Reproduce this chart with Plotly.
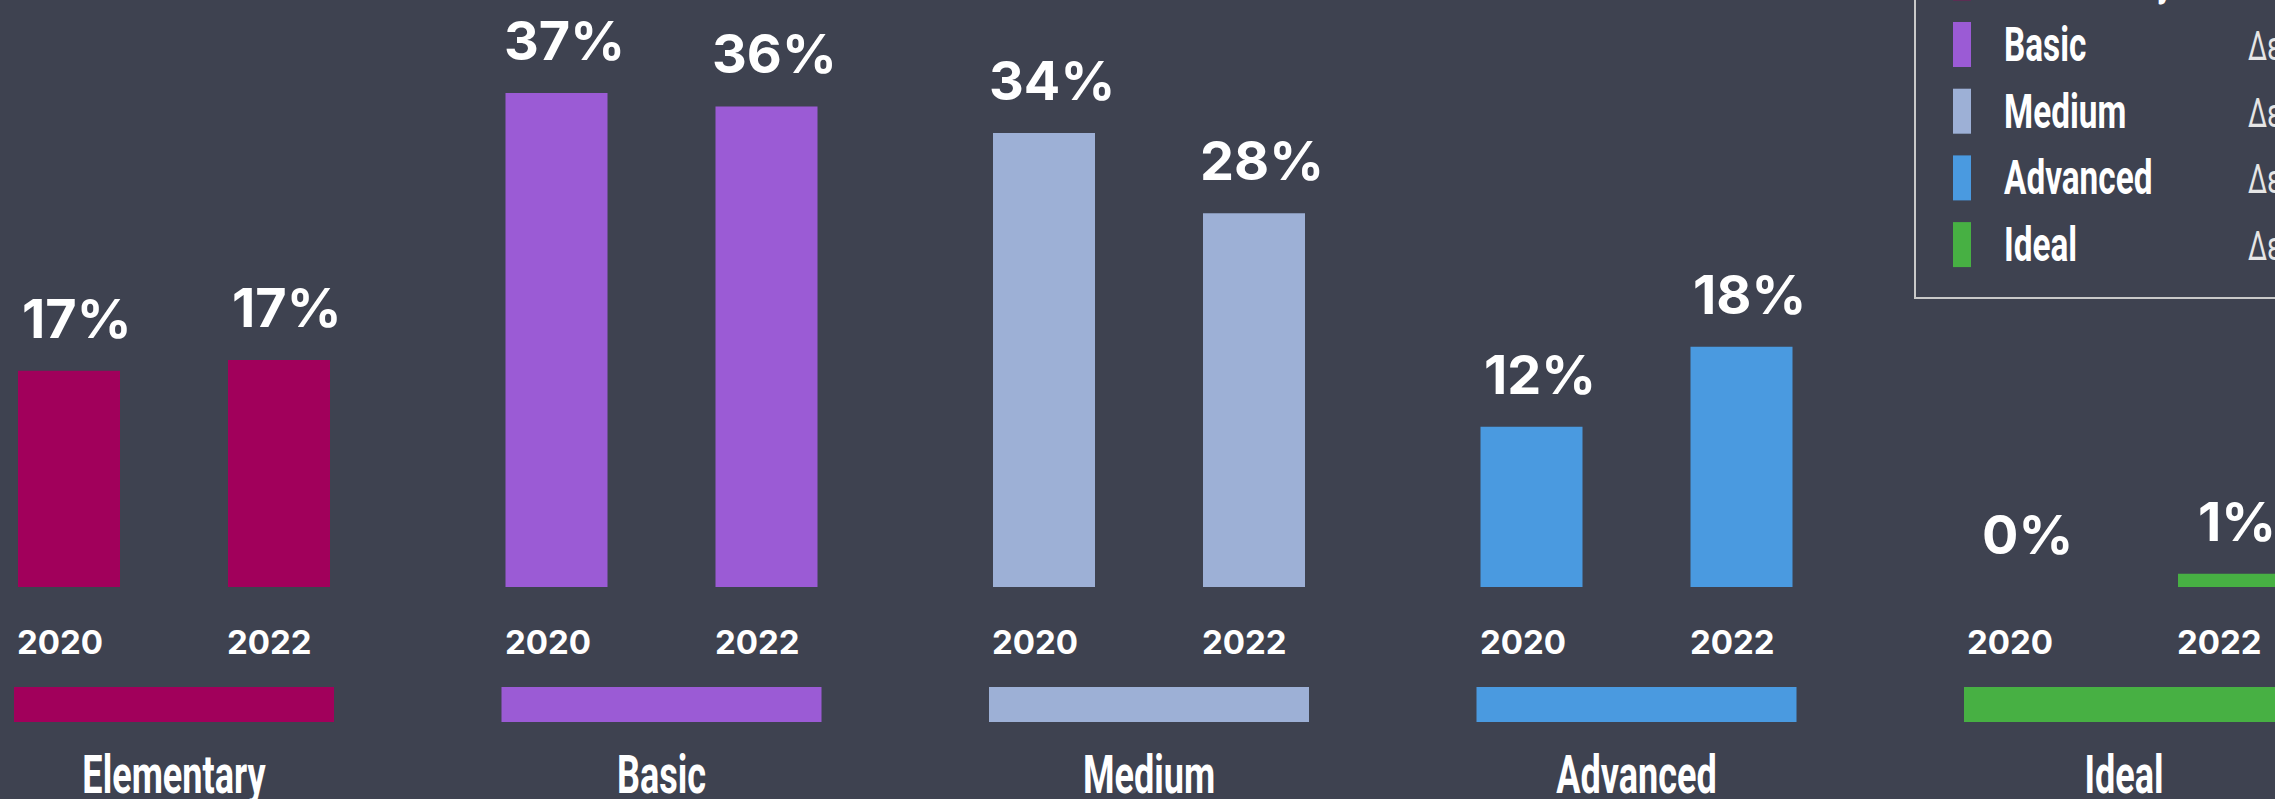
import json
import plotly.graph_objects as go

# ---------------- data ----------------
categories = ["Elementary", "Basic", "Medium", "Advanced", "Ideal"]
years = ["2020", "2022"]
values_2020 = [16.2, 37, 34, 12, 0]     # bar heights (%)
values_2022 = [17, 36, 28, 18, 1]
labels_2020 = ["17%", "37%", "34%", "12%", "0%"]
labels_2022 = ["17%", "36%", "28%", "18%", "1%"]
colors = ["#a1005b", "#9b5bd5", "#9db0d6", "#4a9ae0", "#47b043"]
legend_note = "Δε"

# ---------------- layout constants ----------------
W, HT = 2275, 799
MB = 60
H = HT - MB                 # plot-area height in px
PX_PER_UNIT = 13.35         # px per percentage point
BASE_PX = 587               # pixel row of y=0
GROUP_PX = 487.5            # category spacing in px
FIRST_CENTER_PX = 174
SLOT_PX = 210
BAR_PX = 102
CONDENSE = 0.68             # horizontal squeeze for the condensed labels

ymin = -(H - BASE_PX) / PX_PER_UNIT
ymax = ymin + H / PX_PER_UNIT
xmin = -FIRST_CENTER_PX / GROUP_PX
xmax = (W - FIRST_CENTER_PX) / GROUP_PX

def py_to_data(py):
    return (BASE_PX - py) / PX_PER_UNIT

def px_paper(px):
    return px / W

def py_paper(py):
    return (H - py) / H

BG = "#3e4250"
PCT_FONT = dict(family="Inter, Lato, sans-serif", size=54, color="white", weight=700)
YEAR_FONT = dict(family="Inter, Lato, sans-serif", size=33, color="white", weight=700)
COND_FONT = "Roboto, Liberation Sans, sans-serif"

fig = go.Figure()

for yr, vals in zip(years, [values_2020, values_2022]):
    fig.add_trace(go.Bar(
        x=categories, y=vals, name=yr,
        marker=dict(color=colors, line=dict(width=0)),
        offsetgroup=yr, showlegend=False, hoverinfo="skip",
    ))

# colored band under the year labels (one per category)
band_bottom = py_to_data(722)
band_top = py_to_data(687)
fig.add_trace(go.Bar(
    x=categories, y=[band_top - band_bottom] * len(categories),
    base=[band_bottom] * len(categories),
    width=[320 / GROUP_PX] * len(categories),
    marker=dict(color=colors, line=dict(width=0)),
    xaxis="x2", yaxis="y", showlegend=False, hoverinfo="skip",
))

annotations = []
for k, (yr, vals, labs) in enumerate(zip(years, [values_2020, values_2022], [labels_2020, labels_2022])):
    sign = -1 if k == 0 else 1
    for cat, v, lab in zip(categories, vals, labs):
        annotations.append(dict(
            x=cat, y=v, xref="x", yref="y", text=lab, showarrow=False,
            xshift=sign * SLOT_PX / 2 + 8, yshift=18,
            xanchor="center", yanchor="bottom", font=PCT_FONT,
        ))
        annotations.append(dict(
            x=cat, y=py_to_data(642), xref="x", yref="y", text=yr, showarrow=False,
            xshift=sign * SLOT_PX / 2 - BAR_PX / 2 - 3,
            xanchor="left", yanchor="middle", font=YEAR_FONT,
        ))

# manual legend (top-right, partially outside the picture)
shapes = [dict(
    type="rect", xref="paper", yref="paper",
    x0=px_paper(1915), x1=px_paper(W + 50), y0=py_paper(298), y1=py_paper(-60),
    line=dict(color="#c9c9c9", width=2), fillcolor="rgba(0,0,0,0)", layer="below",
)]
ROW0, ROW_STEP = 44.5 - 66.7, 66.7
for i, (cat, col) in enumerate(zip(categories, colors)):
    cy = ROW0 + i * ROW_STEP
    shapes.append(dict(
        type="rect", xref="paper", yref="paper",
        x0=px_paper(1953), x1=px_paper(1971), y0=py_paper(cy + 22.5), y1=py_paper(cy - 22.5),
        line=dict(width=0), fillcolor=col,
    ))
    annotations.append(dict(
        x=px_paper(2002), y=py_paper(cy), xref="paper", yref="paper", text=cat,
        showarrow=False, xanchor="left", yanchor="middle",
        font=dict(family=COND_FONT, size=49, color="white", weight=700),
    ))
    annotations.append(dict(
        x=px_paper(2246), y=py_paper(cy + 2), xref="paper", yref="paper", text=legend_note,
        showarrow=False, xanchor="left", yanchor="middle",
        font=dict(family=COND_FONT, size=40, color="#e6e6e6"),
    ))

axis_common = dict(range=[xmin, xmax], showgrid=False, zeroline=False, showline=False,
                   fixedrange=True, automargin=False, type="category",
                   categoryorder="array", categoryarray=categories)

fig.update_layout(
    template="none",
    width=W, height=HT,
    margin=dict(l=0, r=0, t=0, b=MB, pad=0),
    paper_bgcolor=BG, plot_bgcolor=BG,
    barmode="group", bargap=1 - 2 * SLOT_PX / GROUP_PX, bargroupgap=1 - BAR_PX / SLOT_PX,
    xaxis=dict(**axis_common, ticks="", showticklabels=True, ticklabelstandoff=0,
               tickfont=dict(family=COND_FONT, size=53, color="white", weight=700)),
    xaxis2=dict(**axis_common, overlaying="x", showticklabels=False, ticks=""),
    yaxis=dict(range=[ymin, ymax], visible=False, showgrid=False, zeroline=False,
               fixedrange=True, automargin=False),
    annotations=annotations,
    shapes=shapes,
    showlegend=False,
)

post = """
document.body.style.margin = '0';
document.body.style.background = '%s';
var gd = document.getElementById('{plot_id}');
var CATS = %s;
var NOTE = %s;
var F = %f;
function condense() {
  var els = gd.querySelectorAll('.xtick text, .annotation-text-g text');
  els.forEach(function (el) {
    if (el.getAttribute('data-cond')) return;
    var t = el.textContent;
    var isTick = !!el.closest('.xtick');
    if (CATS.indexOf(t) < 0 && t !== NOTE) return;
    var w = el.getComputedTextLength();
    var w2 = w * F;
    el.setAttribute('textLength', w2);
    el.setAttribute('lengthAdjust', 'spacingAndGlyphs');
    el.setAttribute('data-cond', '1');
    if (!isTick) {
      var x = parseFloat(el.getAttribute('x') || '0');
      el.setAttribute('x', x - (w - w2) / 2);
    }
  });
}
condense();
gd.on('plotly_afterplot', condense);
""" % (BG, json.dumps(categories), json.dumps(legend_note), CONDENSE)

fig.write_html("out.html", post_script=post, config={"displayModeBar": False})
